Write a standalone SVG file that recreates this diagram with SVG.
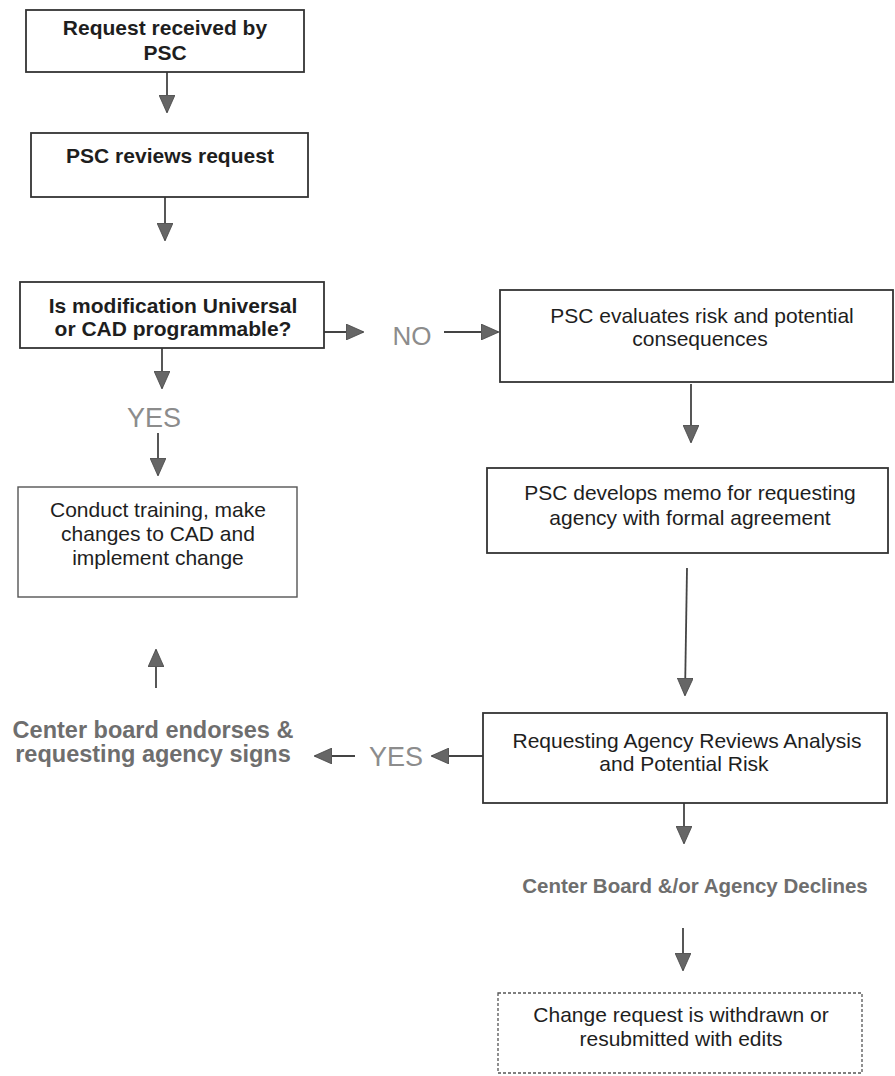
<svg xmlns="http://www.w3.org/2000/svg" width="895" height="1076" viewBox="0 0 895 1076">
<style>
.box{fill:#fff;stroke:#333;stroke-width:1.8}
.dash{fill:#fff;stroke:#555;stroke-width:1.3;stroke-dasharray:3 2}
.t{font-family:"Liberation Sans",Arial,sans-serif;font-size:21px;fill:#1e1e1e;text-anchor:middle}
.b{font-weight:bold}
.g{fill:#6e6e6e}
.lbl{font-family:"Liberation Sans",Arial,sans-serif;font-size:27px;fill:#8c8c8c;text-anchor:middle}
.c{stroke:#444;stroke-width:1.8;fill:none;marker-end:url(#ah)}
</style>
<defs>
<marker id="ah" viewBox="0 0 18 16" refX="17" refY="8" markerWidth="18" markerHeight="16" markerUnits="userSpaceOnUse" orient="auto">
<path d="M0,0 L18,8 L0,16 Z" fill="#666" stroke="#444" stroke-width="0.8"/>
</marker>
</defs>
<rect width="895" height="1076" fill="#fff"/>
<g id="connectors">
<line class="c" x1="167" y1="72" x2="167" y2="112"/>
<line class="c" x1="165" y1="197" x2="165" y2="240"/>
<line class="c" x1="324" y1="332" x2="363" y2="332"/>
<line class="c" x1="444" y1="332" x2="498" y2="332"/>
<line class="c" x1="162" y1="348" x2="162" y2="388"/>
<line class="c" x1="158" y1="433" x2="158" y2="475"/>
<line class="c" x1="691" y1="384" x2="691" y2="442"/>
<line class="c" x1="687" y1="568" x2="685" y2="695"/>
<line class="c" x1="483" y1="756" x2="432" y2="756"/>
<line class="c" x1="355" y1="756" x2="315" y2="756"/>
<line class="c" x1="156" y1="688" x2="156" y2="650"/>
<line class="c" x1="684" y1="803" x2="684" y2="843"/>
<line class="c" x1="683" y1="928" x2="683" y2="970"/>
<text class="lbl" x="412" y="345" style="font-size:26px">NO</text>
<text class="lbl" x="154" y="427">YES</text>
<text class="lbl" x="396" y="766">YES</text>
</g>
<g id="n1"><rect class="box" x="26" y="10" width="278" height="62"/>
<text class="t b" x="165" y="35">Request received by</text><text class="t b" x="165" y="60">PSC</text></g>
<g id="n2"><rect class="box" x="31" y="133" width="277" height="64"/>
<text class="t b" x="170" y="163">PSC reviews request</text></g>
<g id="n3"><rect class="box" x="20" y="282" width="304" height="66"/>
<text class="t b" x="173" y="313">Is modification Universal</text><text class="t b" x="173" y="336">or CAD programmable?</text></g>
<g id="n4"><rect class="box" x="500" y="290" width="393" height="92"/>
<text class="t" x="702" y="323">PSC evaluates risk and potential</text><text class="t" x="700" y="346">consequences</text></g>
<g id="n5"><rect class="box" x="487" y="468" width="401" height="85"/>
<text class="t" x="690" y="500">PSC develops memo for requesting</text><text class="t" x="690" y="525">agency with formal agreement</text></g>
<g id="n6"><rect class="box" x="483" y="713" width="404" height="90"/>
<text class="t" x="687" y="748">Requesting Agency Reviews Analysis</text><text class="t" x="684" y="771">and Potential Risk</text></g>
<g id="n7"><rect class="box" x="18" y="487" width="279" height="110" style="stroke:#555;stroke-width:1.4"/>
<text class="t" x="158" y="517">Conduct training, make</text><text class="t" x="158" y="541">changes to CAD and</text><text class="t" x="158" y="565">implement change</text></g>
<g id="n8"><text class="t b g" x="153" y="738" style="font-size:23.5px">Center board endorses &amp;</text>
<text class="t b g" x="153" y="762" style="font-size:23.5px">requesting agency  signs</text></g>
<g id="n9"><text class="t b g" x="695" y="893" style="font-size:20.5px">Center Board &amp;/or Agency Declines</text></g>
<g id="n10"><rect class="dash" x="498" y="993" width="364" height="80"/>
<text class="t" x="681" y="1022">Change request is withdrawn or</text><text class="t" x="681" y="1046">resubmitted with edits</text></g>
</svg>
